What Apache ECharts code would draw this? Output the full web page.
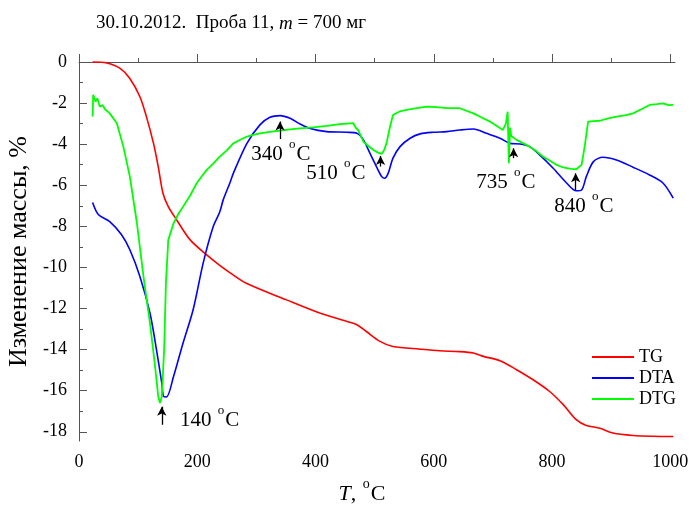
<!DOCTYPE html>
<html><head><meta charset="utf-8">
<script src="https://cdn.jsdelivr.net/npm/echarts@6/dist/echarts.min.js"></script>
<style>html,body{margin:0;padding:0;background:#fff}#c{width:689px;height:508px}</style>
</head><body><div id="c"></div>
<script>
// ---- data ----
const tgT = [23,47,69,86,103,114,126,134,142,151,165,188,216,238,255,283,351,407,453,470,486,509,531,577,610,644,667,684,712,740,768,796,819,841,858,881,903,937,971,1005];
const tgV = [0,-0.05,-0.3,-0.8,-1.69,-2.66,-3.96,-5.09,-6.39,-7.04,-7.68,-8.66,-9.39,-9.9,-10.25,-10.77,-11.58,-12.22,-12.63,-12.79,-13.12,-13.6,-13.85,-13.98,-14.06,-14.1,-14.17,-14.33,-14.54,-14.98,-15.47,-16.04,-16.68,-17.41,-17.69,-17.83,-18.06,-18.18,-18.22,-18.23];

const dtaT = [23,33,52,72,86,103,120,131,140,143,148,160,176,193,210,227,238,244,255,261,284,306,323,340,357,374,391,419,453,470,481,492,503,512,517,523,531,543,560,577,599,622,644,667,689,712,729,746,762,779,802,825,841,850,858,870,886,909,937,965,988,1005];
const dtaV = [-6.84,-7.44,-7.77,-8.41,-9.14,-10.44,-12.22,-14.0,-15.63,-16.28,-16.31,-15.3,-13.68,-12.06,-9.79,-8.01,-7.3,-6.7,-5.9,-5.42,-3.96,-3.06,-2.69,-2.61,-2.74,-3.02,-3.24,-3.39,-3.42,-3.47,-3.79,-4.44,-5.09,-5.58,-5.66,-5.41,-4.68,-4.12,-3.71,-3.5,-3.42,-3.39,-3.31,-3.26,-3.47,-3.71,-3.96,-3.99,-4.12,-4.52,-5.17,-5.9,-6.27,-6.23,-5.58,-4.85,-4.64,-4.77,-5.12,-5.5,-5.9,-6.63];

const dtgT = [23,24,28,31,35,40,44,52,64,75,86,98,109,120,128,134,137,140,144,147,151,160,168,176,188,199,208,216,227,238,250,261,272,284,295,306,323,340,357,374,396,419,441,464,468,472,481,490,498,505,512,516,520,526,531,543,554,571,588,605,622,644,667,681,695,706,717,722,725,727,729,731,740,751,762,774,785,796,808,816,825,833,841,846,850,853,856,861,870,881,895,909,923,937,951,965,977,988,997,1005];
const dtgV = [-2.66,-1.6,-1.93,-1.77,-2.17,-2.1,-2.3,-2.5,-2.98,-4.12,-5.58,-7.85,-10.44,-12.71,-14.65,-16.28,-16.6,-16.3,-14.0,-10.76,-8.66,-7.85,-7.4,-7.04,-6.5,-5.9,-5.55,-5.25,-4.95,-4.61,-4.3,-3.96,-3.8,-3.63,-3.55,-3.47,-3.4,-3.34,-3.28,-3.23,-3.18,-3.11,-3.02,-2.98,-3.2,-3.31,-3.88,-4.1,-4.28,-4.4,-4.47,-4.3,-3.96,-3.15,-2.58,-2.4,-2.33,-2.25,-2.17,-2.2,-2.25,-2.25,-2.5,-2.7,-2.9,-3.1,-3.31,-3.0,-2.42,-4.93,-3.2,-3.6,-3.79,-3.95,-4.12,-4.35,-4.61,-4.8,-5.01,-5.1,-5.17,-5.2,-5.22,-5.1,-5.01,-4.5,-3.96,-2.9,-2.88,-2.86,-2.75,-2.66,-2.6,-2.5,-2.3,-2.09,-2.05,-2.01,-2.1,-2.09];

const xLabelVals = [0,200,400,600,800,1000];
const xMinorVals = [100,300,500,700,900];
const yLabelVals = [0,-2,-4,-6,-8,-10,-12,-14,-16,-18];
const yMinorVals = [-1,-3,-5,-7,-9,-11,-13,-15,-17];

const arrowT    = [140, 340, 510, 735, 840];
const arrowTail = [-17.66, -3.75, -5.09, -4.68, -6.23];
const arrowTip  = [-16.78, -2.9, -4.57, -4.2, -5.42];

const noteT    = [221, 341.5, 434.5, 722, 853.7];
const noteV    = [-17.45, -4.5, -5.45, -5.85, -7.05];
const noteText = ['140', '340', '510', '735', '840'];

// ---- chart ----
const F = 'Liberation Serif';
const zip = (a, b) => a.map((v, i) => [v, b[i]]);
const axisCol = '#555555';

const chart = echarts.init(document.getElementById('c'), null, {renderer: 'canvas'});
chart.setOption({
  animation: false,
  backgroundColor: '#fff',
  title: {
    text: '{a|30.10.2012.  Проба 11, }{i|m}{a| = 700 мг}',
    left: 91, top: 9,
    textStyle: {
      fontWeight: 'normal',
      rich: {
        a: {fontFamily: F, fontSize: 19, fontWeight: 'normal', color: '#000'},
        i: {fontFamily: F, fontSize: 19, fontWeight: 'normal', fontStyle: 'italic', color: '#000'}
      }
    }
  },
  legend: {
    orient: 'vertical', left: 587, top: 343,
    icon: 'rect', itemWidth: 42, itemHeight: 2, itemGap: 3,
    textStyle: {fontFamily: F, fontSize: 18, color: '#000'},
    data: ['TG', 'DTA', 'DTG']
  },
  grid: {left: 79, right: 14, top: 62, bottom: 67, outerBoundsMode: 'none', containLabel: false},
  xAxis: [{
    type: 'value', min: 0, max: 1008,
    name: '{i|T}{a|, }{s|o}{a|C}', nameLocation: 'middle', nameGap: 42,
    nameTextStyle: {padding: [0, 30, 0, 0], rich: {
      i: {fontFamily: F, fontSize: 22, fontStyle: 'italic', color: '#000'},
      a: {fontFamily: F, fontSize: 22, color: '#000'},
      s: {fontFamily: F, fontSize: 14, color: '#000', verticalAlign: 'top', lineHeight: 14, padding: [-6, 1, 0, 1]}
    }},
    axisLine: {show: true, lineStyle: {color: axisCol, width: 1}},
    axisTick: {show: true, inside: true, length: 8, customValues: xLabelVals, lineStyle: {color: axisCol}},
    axisLabel: {customValues: xLabelVals, formatter: v => String(v), fontFamily: F, fontSize: 18, color: '#000', margin: 12},
    splitLine: {show: false}
  }, {
    type: 'value', min: 0, max: 1008, position: 'bottom',
    axisLine: {show: false},
    axisTick: {show: true, inside: true, length: 4, customValues: xMinorVals, lineStyle: {color: axisCol}},
    axisLabel: {show: false}, splitLine: {show: false}
  }],
  yAxis: [{
    type: 'value', min: -18.45, max: 0,
    name: 'Изменение массы, %', nameLocation: 'middle', nameGap: 47,
    nameTextStyle: {fontFamily: F, fontSize: 26, color: '#000'},
    axisLine: {show: true, lineStyle: {color: axisCol, width: 1}},
    axisTick: {show: true, inside: true, length: 8, customValues: yLabelVals, lineStyle: {color: axisCol}},
    axisLabel: {customValues: yLabelVals, formatter: v => String(v), fontFamily: F, fontSize: 18, color: '#000', margin: 12},
    splitLine: {show: false}
  }, {
    type: 'value', min: -18.45, max: 0, position: 'left',
    axisLine: {show: false},
    axisTick: {show: true, inside: true, length: 4, customValues: yMinorVals, lineStyle: {color: axisCol}},
    axisLabel: {show: false}, splitLine: {show: false}
  }],
  series: [
    {name: 'TG', type: 'line', data: zip(tgT, tgV), showSymbol: false, smooth: 0.3, clip: false,
     lineStyle: {color: '#ff0000', width: 1.6}, itemStyle: {color: '#ff0000'}},
    {name: 'DTA', type: 'line', data: zip(dtaT, dtaV), showSymbol: false, smooth: 0.3, clip: false,
     lineStyle: {color: '#0000ff', width: 1.6}, itemStyle: {color: '#0000ff'}},
    {name: 'DTG', type: 'line', data: zip(dtgT, dtgV), showSymbol: false, smooth: false, clip: false,
     lineStyle: {color: '#00ff00', width: 1.8}, itemStyle: {color: '#00ff00'}},
    {name: 'arrows', type: 'line', data: [], silent: true,
     markLine: {
       silent: true, symbol: ['none', 'arrow'], symbolSize: [7, 9], animation: false,
       label: {show: false},
       lineStyle: {color: '#000', width: 1.3, type: 'solid', opacity: 1},
       data: arrowT.map((t, i) => [{coord: [t, arrowTail[i]]}, {coord: [t, arrowTip[i]]}])
     }},
    {name: 'notes', type: 'scatter', data: zip(noteT, noteV), symbolSize: 0, silent: true,
     itemStyle: {color: '#000', opacity: 1},
     label: {
       show: true, position: 'inside', color: '#000', opacity: 1, textBorderWidth: 0,
       formatter: p => '{n|' + noteText[p.dataIndex] + ' }{s|o}{n|C}',
       rich: {
         n: {fontFamily: F, fontSize: 21, color: '#000', textBorderWidth: 0},
         s: {fontFamily: F, fontSize: 13, color: '#000', textBorderWidth: 0, verticalAlign: 'top', lineHeight: 14, padding: [-6, 1, 0, 1]}
       }
     }}
  ]
});
</script>
</body></html>
